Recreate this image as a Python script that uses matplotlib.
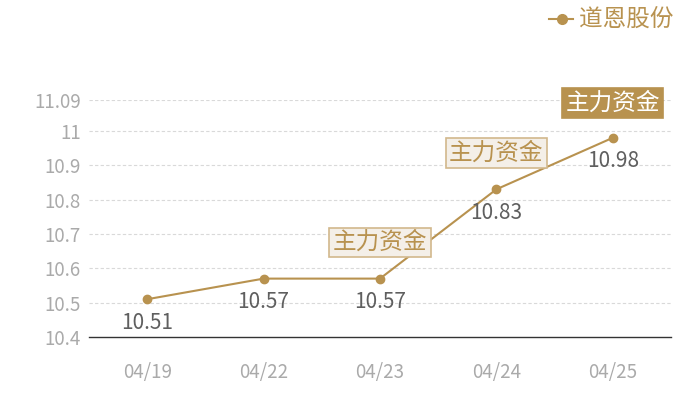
import matplotlib.pyplot as plt
import numpy as np

plt.rcParams['font.family'] = ['Noto Sans CJK SC', 'DejaVu Sans']

dates = ['04/19', '04/22', '04/23', '04/24', '04/25']
prices = [10.51, 10.57, 10.57, 10.83, 10.98]
flags = [None, None, 'plain', 'plain', 'strong']   # 主力资金 markers
flag_text = '主力资金'
series_name = '道恩股份'
yticks = [10.4, 10.5, 10.6, 10.7, 10.8, 10.9, 11, 11.09]
ytick_labels = ['10.4', '10.5', '10.6', '10.7', '10.8', '10.9', '11', '11.09']

gold = '#b8924f'

fig = plt.figure(figsize=(7, 4), dpi=100)
ax = fig.add_axes([89/700, 63/400, 582/700, 237/400])

x = np.arange(len(dates))
ax.plot(x, prices, color=gold, lw=1.5, marker='o', ms=6, zorder=3)
ax.set_xlim(-0.5, len(dates) - 0.5)
ax.set_ylim(10.4, 11.09)

ax.set_yticks(yticks)
ax.set_yticklabels(ytick_labels)
ax.set_xticks(x)
ax.set_xticklabels(dates)
ax.tick_params(axis='both', length=0, labelsize=13.5, colors='#aaaaaa')
ax.tick_params(axis='y', pad=6)
ax.tick_params(axis='x', pad=18)

for t in yticks[1:]:
    ax.axhline(t, color='#d9d9d9', lw=0.8, ls=(0, (3, 2)), zorder=1)

for s in ['top', 'right', 'left']:
    ax.spines[s].set_visible(False)
ax.spines['bottom'].set_color('#333333')
ax.spines['bottom'].set_linewidth(1)

for xi, p, f in zip(x, prices, flags):
    ax.annotate(f'{p:.2f}', (xi, p), xytext=(0, -17), textcoords='offset points',
                ha='center', va='center', fontsize=15, color='#5f5f5f')
    if f == 'plain':
        ax.annotate(flag_text, (xi, p), xytext=(0, 26), textcoords='offset points',
                    ha='center', va='center', fontsize=17, color=gold, zorder=4,
                    bbox=dict(boxstyle='square,pad=0.14', fc='#f4efe8', ec='#d2b88c', lw=1.2))
    elif f == 'strong':
        ax.annotate(flag_text, (xi, p), xytext=(0, 25), textcoords='offset points',
                    ha='center', va='center', fontsize=17, color='white', zorder=4,
                    bbox=dict(boxstyle='square,pad=0.14', fc=gold, ec=gold, lw=1.2))

# legend
fig.lines.append(plt.Line2D([549/700, 573/700], [381/400, 381/400], color=gold, lw=1.5,
                            transform=fig.transFigure))
fig.lines.append(plt.Line2D([562/700], [381/400], color=gold, marker='o', ms=7,
                            transform=fig.transFigure))
fig.text(579/700, 381/400, series_name, color=gold, fontsize=17, ha='left', va='center')

fig.savefig('out.png', dpi=100)
